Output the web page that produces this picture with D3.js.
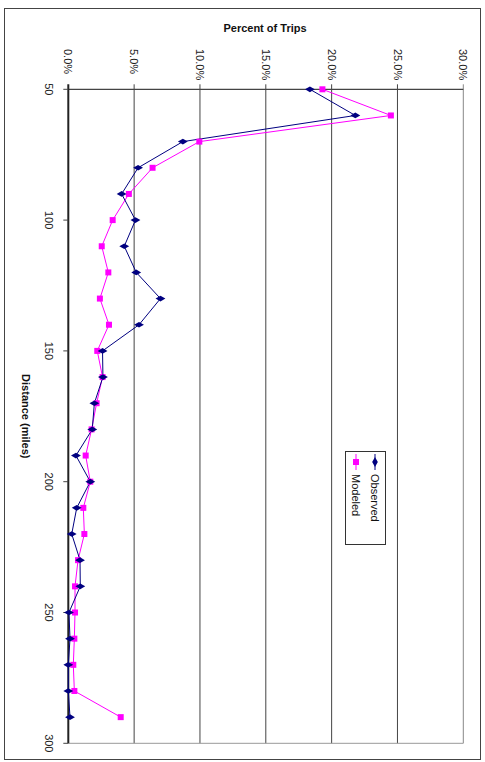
<!DOCTYPE html>
<html><head><meta charset="utf-8">
<script src="https://cdn.jsdelivr.net/npm/d3@7"></script>
<style>body{margin:0;background:#fff;} text{font-family:"Liberation Sans",Arial,sans-serif;}</style>
</head><body>
<svg id="c" width="485" height="762"></svg>
<script>
const distances = [50,60,70,80,90,100,110,120,130,140,150,160,170,180,190,200,210,220,230,240,250,260,270,280,290];
const observed = [18.35,21.8,8.7,5.3,4.05,5.1,4.25,5.16,7.0,5.37,2.6,2.63,1.98,1.82,0.58,1.67,0.64,0.26,0.89,0.91,0.05,0.13,0.0,0.0,0.13];
const modeled  = [19.3,24.5,9.95,6.4,4.6,3.37,2.54,3.04,2.4,3.09,2.2,2.6,2.15,1.77,1.32,1.67,1.14,1.22,0.74,0.51,0.51,0.46,0.38,0.46,3.98];
const pctTicks = [0,5,10,15,20,25,30];
const distTicks = [50,100,150,200,250,300];
const seriesNames = ["Observed","Modeled"];

const svg = d3.select("#c");
const x = d3.scaleLinear().domain([0,30]).range([68.3,463.3]);
const y = d3.scaleLinear().domain([50,300]).range([89.3,743.3]);

// outer frame
svg.append("rect").attr("x",4.5).attr("y",8.5).attr("width",476).attr("height",751)
  .attr("fill","none").attr("stroke","#444").attr("stroke-width",1);

// gridlines
svg.append("g").selectAll("line").data(pctTicks.slice(1)).join("line")
  .attr("x1",d=>x(d)).attr("x2",d=>x(d)).attr("y1",y(50)-5).attr("y2",y(300))
  .attr("stroke",d=>d===30?"#888":"#444").attr("stroke-width",1);
// bottom border
svg.append("line").attr("x1",x(0)).attr("x2",x(30)).attr("y1",y(300)).attr("y2",y(300)).attr("stroke","#999");
// top axis line (value axis)
svg.append("line").attr("x1",x(0)).attr("x2",x(30)).attr("y1",y(50)).attr("y2",y(50)).attr("stroke","#444").attr("stroke-width",1.2);
// left axis line (category)
svg.append("line").attr("x1",x(0)).attr("x2",x(0)).attr("y1",y(50)-5).attr("y2",y(300)).attr("stroke","#222").attr("stroke-width",2);
// left ticks
svg.append("g").selectAll("line").data(distTicks).join("line")
  .attr("x1",x(0)-5).attr("x2",x(0)).attr("y1",d=>y(d)).attr("y2",d=>y(d)).attr("stroke","#444");

// percent tick labels
svg.append("g").selectAll("text").data(pctTicks).join("text")
  .attr("transform",d=>`translate(${x(d)},49) rotate(90)`)
  .attr("text-anchor","start").attr("dy","0.35em").attr("font-size",11).attr("fill","#222")
  .text(d=>d3.format(".1f")(d)+"%");
// distance tick labels
svg.append("g").selectAll("text").data(distTicks).join("text")
  .attr("transform",d=>`translate(49,${y(d)}) rotate(90)`)
  .attr("text-anchor","middle").attr("dy","0.35em").attr("font-size",11).attr("fill","#222")
  .text(d=>d);

// titles
svg.append("text").attr("x",265).attr("y",32).attr("text-anchor","middle")
  .attr("font-size",11).attr("font-weight","bold").attr("fill","#111").text("Percent of Trips");
svg.append("text").attr("transform",`translate(26,${(y(50)+y(300))/2}) rotate(90)`)
  .attr("text-anchor","middle").attr("dy","0.35em").attr("font-size",11).attr("font-weight","bold").attr("fill","#111")
  .text("Distance (miles)");

const line = d3.line();
const obsPts = distances.map((d,i)=>[x(observed[i]),y(d)]);
const modPts = distances.map((d,i)=>[x(modeled[i]),y(d)]);
svg.append("path").attr("d",line(modPts)).attr("fill","none").attr("stroke","#ff00ff").attr("stroke-width",1);
svg.append("path").attr("d",line(obsPts)).attr("fill","none").attr("stroke","#000080").attr("stroke-width",1);
svg.append("g").selectAll("rect").data(modPts).join("rect")
  .attr("x",d=>d[0]-3).attr("y",d=>d[1]-3).attr("width",6).attr("height",6).attr("fill","#ff00ff");
const diamond = d3.symbol().type(d3.symbolDiamond).size(28);
svg.append("g").selectAll("path").data(obsPts).join("path")
  .attr("transform",d=>`translate(${d[0]},${d[1]}) rotate(90)`).attr("d",diamond).attr("fill","#000080");

// legend
const lg = svg.append("g");
lg.append("rect").attr("x",345.5).attr("y",451.5).attr("width",40).attr("height",93)
  .attr("fill","#fff").attr("stroke","#333");
const lx = [375,356];
const colors = ["#000080","#ff00ff"];
seriesNames.forEach((n,i)=>{
  lg.append("line").attr("x1",lx[i]).attr("x2",lx[i]).attr("y1",454).attr("y2",470).attr("stroke",colors[i]);
  if(i===0) lg.append("path").attr("transform",`translate(${lx[i]},462)`).attr("d",diamond).attr("fill",colors[i]);
  else lg.append("rect").attr("x",lx[i]-3).attr("y",459).attr("width",6).attr("height",6).attr("fill",colors[i]);
  lg.append("text").attr("transform",`translate(${lx[i]},474) rotate(90)`)
    .attr("dy","0.35em").attr("font-size",11).attr("fill","#111").text(n);
});
</script>
</body></html>
